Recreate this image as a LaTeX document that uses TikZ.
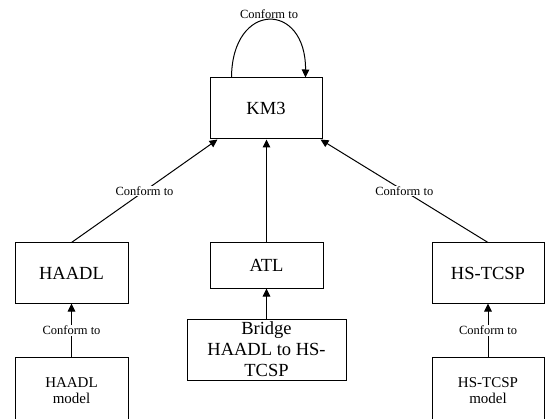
\documentclass[tikz,border=0pt]{standalone}
\usepackage{fontspec}
\setmainfont{Liberation Serif}
\usetikzlibrary{arrows.meta}
\begin{document}
\begin{tikzpicture}[x=1pt,y=-1pt,
  box/.style={draw,line width=1pt,rectangle,inner sep=0pt,align=center},
  big/.style={font=\fontsize{18.5}{21}\selectfont},
  mid/.style={font=\fontsize{15}{16}\selectfont},
  lab/.style={font=\fontsize{12.5}{14}\selectfont,fill=white,inner sep=1pt},
  arr/.style={line width=1pt,-{Triangle[length=8pt,width=7.5pt]}}]
\clip (0,0) rectangle (545,419);
\fill[white] (0,0) rectangle (545,419);
\node[box,big,minimum width=112pt,minimum height=61pt] (km3) at (266,108.5) {KM3};
\node[box,big,minimum width=113pt,minimum height=60pt] (haadl) at (71.5,273) {HAADL};
\node[box,big,minimum width=113pt,minimum height=45pt] (atl) at (266.5,265.5) {ATL};
\node[box,big,minimum width=112pt,minimum height=60pt] (hstcsp) at (488,273) {HS-TCSP};
\node[box,big,minimum width=159pt,minimum height=61pt] (bridge) at (266.5,349.5) {Bridge\\HAADL to HS-\\TCSP};
\node[box,mid,minimum width=113pt,minimum height=66pt,anchor=north] (hm) at (71.5,357) {HAADL\\model};
\node[box,mid,minimum width=112pt,minimum height=66pt,anchor=north] (hsm) at (488,357) {HS-TCSP\\model};
\draw[arr] ([xshift=22pt]km3.north west) .. controls (232,1) and (306,1) .. ([xshift=-17pt]km3.north east);
\node[lab,fill=none] (loopl) at (269,14) {Conform to};
\draw[arr] (haadl.north) -- node[lab] {Conform to} ([xshift=8pt]km3.south west);
\draw[arr] (hstcsp.north) -- node[lab] {Conform to} ([xshift=-2pt]km3.south east);
\draw[arr] (atl.north) -- (atl.north |- km3.south);
\draw[arr] (bridge.north) -- (atl.south);
\draw[arr] (hm.north) -- node[lab] {Conform to} (haadl.south);
\draw[arr] (hsm.north) -- node[lab] {Conform to} (hstcsp.south);
\end{tikzpicture}
\end{document}
